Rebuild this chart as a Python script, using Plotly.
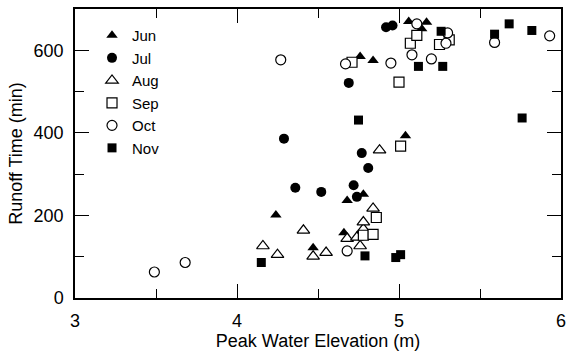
import plotly.graph_objects as go

# Data (Peak Water Elevation (m), Runoff Time (min))
jun_x = [4.24, 4.47, 4.66, 4.68, 4.78, 4.76, 4.84, 5.04, 5.06, 5.14, 5.17]
jun_y = [201, 122, 158, 236, 251, 585, 575, 393, 670, 652, 668]

jul_x = [4.29, 4.36, 4.52, 4.69, 4.72, 4.74, 4.77, 4.81, 4.92, 4.96]
jul_y = [386, 267, 257, 521, 273, 245, 351, 315, 656, 660]

aug_x = [4.16, 4.25, 4.41, 4.47, 4.55, 4.68, 4.74, 4.76, 4.78, 4.78, 4.84, 4.88]
aug_y = [126, 105, 164, 101, 110, 144, 147, 126, 167, 184, 217, 358]

sep_x = [4.71, 4.78, 4.84, 4.86, 5.00, 5.01, 5.07, 5.11, 5.25, 5.31]
sep_y = [571, 152, 154, 195, 523, 368, 617, 636, 614, 625]

oct_x = [3.49, 3.68, 4.27, 4.67, 4.68, 4.95, 5.08, 5.11, 5.20, 5.29, 5.30, 5.59, 5.93]
oct_y = [63, 86, 577, 567, 114, 569, 589, 664, 579, 617, 642, 619, 635]

nov_x = [4.15, 4.75, 4.79, 4.98, 5.01, 5.12, 5.26, 5.27, 5.59, 5.68, 5.76, 5.82]
nov_y = [86, 431, 102, 98, 105, 561, 646, 561, 639, 664, 436, 648]

FONT = "Liberation Sans, Arial, sans-serif"

series = [
    ("Jun", jun_x, jun_y, "triangle-up", 10, "black", 0),
    ("Jul", jul_x, jul_y, "circle", 10, "black", 0),
    ("Aug", aug_x, aug_y, "triangle-up", 11, "white", 1.2),
    ("Sep", sep_x, sep_y, "square", 10, "white", 1.2),
    ("Oct", oct_x, oct_y, "circle", 10, "white", 1.2),
    ("Nov", nov_x, nov_y, "square", 9, "black", 0),
]

fig = go.Figure()
for name, xs, ys, sym, size, fill, lw in series:
    fig.add_trace(go.Scatter(
        x=xs, y=ys, mode="markers", name=name,
        marker=dict(symbol=sym, size=size, color=fill,
                    line=dict(color="black", width=lw)),
    ))

axis_common = dict(
    showline=True, linecolor="black", linewidth=1.5, mirror="ticks",
    ticks="inside", ticklen=14, tickwidth=1.3, tickcolor="black",
    showgrid=False, zeroline=False,
    tickfont=dict(family=FONT, size=18, color="black"),
    title_font=dict(family=FONT, size=18, color="black"),
)

fig.update_xaxes(
    range=[3, 6], tick0=3, dtick=1,
    minor=dict(ticks="inside", ticklen=9, tickwidth=1.3, tickcolor="black", tick0=3, dtick=0.5),
    title_text="Peak Water Elevation (m)", title_standoff=2,
    ticklabelstandoff=6,
    **axis_common,
)
fig.update_yaxes(
    range=[0, 700], tick0=0, dtick=200,
    minor=dict(ticks="inside", ticklen=9, tickwidth=1.3, tickcolor="black", tick0=0, dtick=100),
    title_text="Runoff Time (min)", title_standoff=6,
    ticklabelstandoff=6,
    **axis_common,
)

fig.update_layout(
    width=573, height=353,
    margin=dict(l=74.5, r=7, t=9, b=51),
    paper_bgcolor="white", plot_bgcolor="white",
    font=dict(family=FONT, size=18, color="black"),
    showlegend=True,
    legend=dict(x=0.035, y=0.965, xanchor="left", yanchor="top",
                bgcolor="rgba(0,0,0,0)", borderwidth=0,
                font=dict(family=FONT, size=15, color="black"),
                itemsizing="trace", tracegroupgap=0),
)

fig.write_html("out.html")
